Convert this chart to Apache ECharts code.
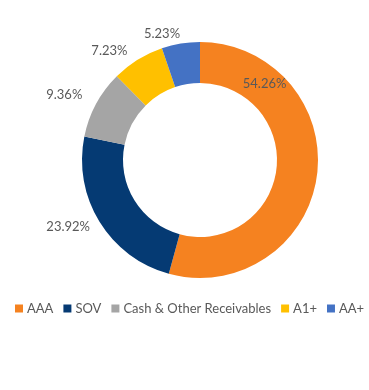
<!DOCTYPE html>
<html><head><meta charset="utf-8">
<script src="https://cdn.jsdelivr.net/npm/echarts@6/dist/echarts.min.js"></script>
<style>html,body{margin:0;padding:0;background:#fff}#c{width:369px;height:390px}</style>
</head><body><div id="c"></div>
<script>
var categories = ['AAA', 'SOV', 'Cash & Other Receivables', 'A1+', 'AA+'];
var values = [54.26, 23.92, 9.36, 7.23, 5.23];
var colors = ['#F58220', '#053A73', '#A5A5A5', '#FFC000', '#4472C4'];

var chart = echarts.init(document.getElementById('c'));
var data = categories.map(function (n, i) {
  var d = { name: n, value: values[i], itemStyle: { color: colors[i] } };
  if (i === 0) d.label = { position: 'inside' };
  return d;
});
var nudges = [[-35, -90], [4, 0], [0, -5], [0, 0], [6, 0]];
chart.setOption({
  animation: false,
  legend: {
    bottom: 70, left: 10, width: 359, padding: [5, 0, 5, 5],
    itemWidth: 8, itemHeight: 8, itemGap: 10,
    icon: 'rect',
    textStyle: { color: '#595959', fontSize: 13, fontFamily: 'Lato', padding: [0, 0, 0, -1] },
    data: categories
  },
  series: [{
    type: 'pie',
    center: [200, 160],
    radius: [77, 118],
    startAngle: 90,
    clockwise: true,
    data: data,
    label: {
      show: true, position: 'outside',
      formatter: function (p) { return p.value.toFixed(2) + '%'; },
      color: '#595959', fontSize: 13, fontFamily: 'Lato'
    },
    labelLine: { show: false, length: 10, length2: 0 },
    labelLayout: function (p) {
      var n = nudges[p.dataIndex];
      return { dx: n[0], dy: n[1] };
    },
    emphasis: { disabled: true }
  }]
});
</script></body></html>
